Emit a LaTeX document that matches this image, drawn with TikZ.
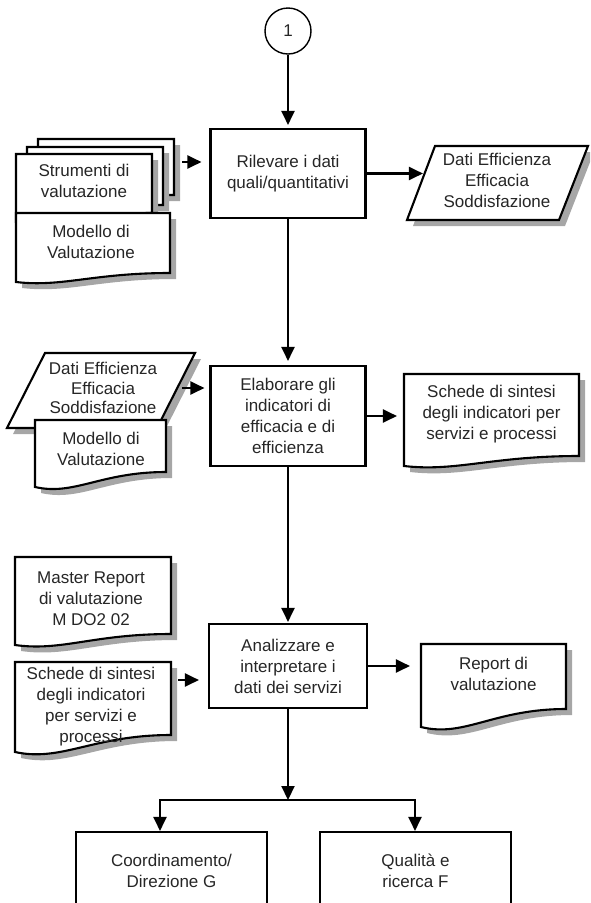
\documentclass[tikz,border=0pt]{standalone}
\usepackage{fontspec}
\setmainfont{Liberation Sans}
\usetikzlibrary{arrows.meta,shadows}

\begin{document}
\begin{tikzpicture}[x=1pt,y=-1pt,line width=2.1pt,
    every node/.style={font=\fontsize{17}{21}\selectfont,align=center,text=black!85},
    proc/.style={draw,rectangle,inner sep=0pt},
    lbl/.style={inner sep=0pt},
    docu/.style={draw,fill=white,drop shadow={shadow xshift=6pt,shadow yshift=-6pt,fill=black!35,opacity=1}},
    arr/.style={-{Triangle[length=14pt,width=13pt]}}]
    \useasboundingbox (0,0) rectangle (590,903);
    \clip (0,0) rectangle (590,903);

    % top: start connector and first step
    \node[draw,circle,line width=1.4pt,minimum size=46pt,inner sep=0pt] (one) at (288,31) {1};
    \node[proc,minimum width=155pt,minimum height=89pt] (ril) at (288,173.5) {Rilevare i dati\\quali/quantitativi};

    \draw[docu] (38,139)--(174,139)--(174,195) .. controls (106,195) and (78.8,211) .. (38,205)--cycle;
    \draw[docu] (27,147)--(163,147)--(163,205) .. controls (95,205) and (67.8,221) .. (27,215)--cycle;
    \draw[docu] (16,154)--(152,154)--(152,213) .. controls (84,213) and (56.8,227.4) .. (16,222)--cycle;
    \node[lbl,minimum width=136pt] (strum) at (84,181) {Strumenti di\\valutazione};
    \draw[docu] (16,213)--(170,213)--(170,273) .. controls (93,273) and (62.2,287.4) .. (16,282)--cycle;
    \node[lbl] (modA) at (91,242) {Modello di\\Valutazione};
    \coordinate (strumout) at (182,162);

    \draw[docu] (435,146)--(588,146)--(559,220)--(407,220)--cycle;
    \node[lbl,minimum width=146pt] (datiR) at (497,180.5) {Dati Efficienza\\Efficacia\\Soddisfazione};

    % second step
    \node[proc,minimum width=155pt,minimum height=100pt] (elab) at (288,416) {Elaborare gli\\indicatori di\\efficacia e di\\efficienza};

    \draw[docu] (45,353)--(195,353)--(157,428)--(7,428)--cycle;
    \node[lbl,minimum width=150pt,font=\fontsize{17}{19.5}\selectfont] (datiL) at (103,388) {Dati Efficienza\\Efficacia\\Soddisfazione};
    \draw[docu] (35,420)--(166,420)--(166,472) .. controls (100.5,472) and (74.3,496) .. (35,487)--cycle;
    \node[lbl] (modB) at (101,449) {Modello di\\Valutazione};

    \draw[docu] (404,374)--(579,374)--(579,456) .. controls (491.5,456) and (456.5,472) .. (404,466)--cycle;
    \node[lbl,minimum width=175pt] (schedeR) at (491.5,414) {Schede di sintesi\\degli indicatori per\\servizi e processi};

    % third step
    \node[proc,minimum width=158pt,minimum height=84pt] (anal) at (288,666) {Analizzare e\\interpretare i\\dati dei servizi};

    \draw[docu] (15,557)--(171,557)--(171,634) .. controls (93,634) and (61.8,651.6) .. (15,645)--cycle;
    \node[lbl] (master) at (91,599) {Master Report\\di valutazione\\M DO2 02};
    \draw[docu] (15,662)--(171,662)--(171,735) .. controls (93,735) and (61.8,762.2) .. (15,752)--cycle;
    \node[lbl] (schedeL) at (91,707) {Schede di sintesi\\degli indicatori\\per servizi e\\processi};
    \coordinate (schedeLout) at (178,680);

    \draw[docu] (421,644)--(566,644)--(566,709) .. controls (493.5,709) and (464.5,737.8) .. (421,727)--cycle;
    \node[lbl,minimum width=145pt] (report) at (493.5,673.5) {Report di\\valutazione};

    % outputs
    \node[proc,minimum width=191pt,minimum height=78pt] (coordG) at (171.5,871) {Coordinamento/\\Direzione G};
    \node[proc,minimum width=191pt,minimum height=78pt] (qualF) at (415.5,871) {Qualità e\\ricerca F};
    \coordinate (split) at (288,800);
    \coordinate (splitL) at (160,800);
    \coordinate (splitR) at (415,800);

    % connectors
    \draw[arr,shorten >=3pt] (one) -- (ril);
    \draw[arr,shorten >=4pt] (ril) -- (elab);
    \draw[arr,shorten >=1pt] (elab) -- (anal);
    \draw[arr] (anal) -- (split);
    \draw[arr] (split) -| (splitL |- coordG.north);
    \draw[arr] (split) -| (splitR |- qualF.north);
    \draw[arr,shorten >=8pt] (strumout) -- (strumout -| ril.west);
    \draw[arr] (ril.east) -- (ril.east -| datiR.west);
    \draw[arr,shorten <=3pt,shorten >=5pt] (datiL.east) -- (datiL.east -| elab.west);
    \draw[arr,shorten >=6pt] (elab.east) -- (elab.east -| schedeR.west);
    \draw[arr,shorten >=9pt] (schedeLout) -- (schedeLout -| anal.west);
    \draw[arr,shorten >=10pt] (anal.east) -- (anal.east -| report.west);
\end{tikzpicture}
\end{document}
